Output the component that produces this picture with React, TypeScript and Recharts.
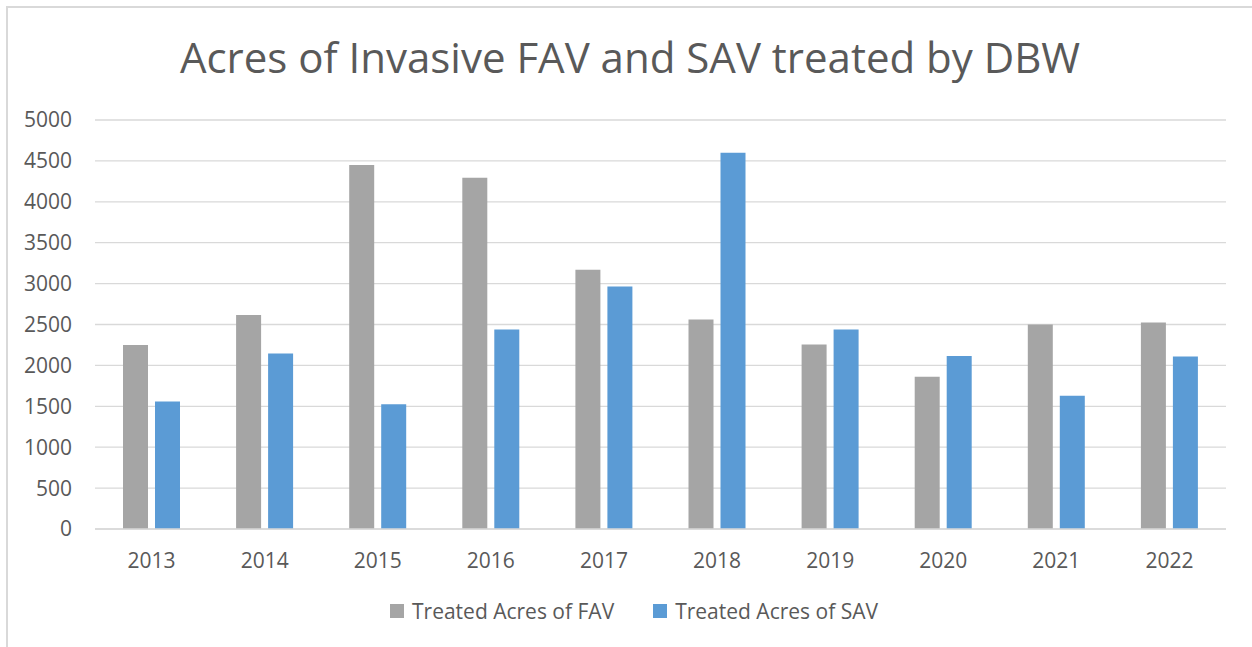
import React from 'react';
import { BarChart, Bar, XAxis, YAxis, CartesianGrid, Legend } from 'recharts';

const YEARS = ['2013', '2014', '2015', '2016', '2017', '2018', '2019', '2020', '2021', '2022'];
const FAV = [2250, 2615, 4450, 4295, 3170, 2560, 2255, 1860, 2500, 2525];
const SAV = [1560, 2145, 1525, 2440, 2965, 4600, 2440, 2115, 1630, 2110];
const Y_TICKS = [0, 500, 1000, 1500, 2000, 2500, 3000, 3500, 4000, 4500, 5000];

const SERIES = [
  { key: 'fav', name: 'Treated Acres of FAV', color: '#A5A5A5' },
  { key: 'sav', name: 'Treated Acres of SAV', color: '#5B9BD5' },
];

const data = YEARS.map((year, i) => ({ year, fav: FAV[i], sav: SAV[i] }));

const FONT = '"Open Sans", sans-serif';
const TEXT = '#595959';

const renderLegend = () => (
  <div style={{ display: 'flex', justifyContent: 'center', fontFamily: FONT, fontSize: 21, color: TEXT }}>
    {SERIES.map((s, i) => (
      <div key={s.key} style={{ display: 'flex', alignItems: 'center', marginLeft: i ? 39 : 0 }}>
        <span style={{ width: 14, height: 14, background: s.color, marginRight: 8, display: 'inline-block' }} />
        <span>{s.name}</span>
      </div>
    ))}
  </div>
);

export default function App() {
  return (
    <div style={{ position: 'fixed', left: 0, top: 0, width: 1252, height: 647, background: '#fff', overflow: 'hidden' }}>
      {/* chart frame, runs off the right and bottom edge like the screenshot */}
      <div style={{ position: 'absolute', left: 6, top: 6, width: 1300, height: 700, border: '2px solid #D9D9D9' }} />
      <div
        style={{
          position: 'absolute',
          left: 0,
          top: 36,
          width: 1260,
          textAlign: 'center',
          fontFamily: FONT,
          fontSize: 42,
          lineHeight: '42px',
          color: TEXT,
        }}
      >
        Acres of Invasive FAV and SAV treated by DBW
      </div>
      {/* legend height gets added to the bottom offset, so the margin is reduced by it */}
      <BarChart
        width={1252}
        height={647}
        data={data}
        margin={{ top: 120, right: 26, bottom: 88, left: 0 }}
        barCategoryGap={28}
        barGap={7}
      >
        <CartesianGrid vertical={false} stroke="#D9D9D9" strokeWidth={1.3} />
        <XAxis
          dataKey="year"
          axisLine={{ stroke: '#D9D9D9', strokeWidth: 1.3 }}
          tickLine={false}
          tickSize={0}
          tickMargin={24}
          tick={{ fill: TEXT, fontSize: 21, fontFamily: FONT }}
          interval={0}
        />
        <YAxis
          width={95}
          domain={[0, 5000]}
          ticks={Y_TICKS}
          axisLine={false}
          tickLine={false}
          tickSize={0}
          tickMargin={23}
          tick={{ fill: TEXT, fontSize: 21, fontFamily: FONT }}
        />
        <Legend
          content={renderLegend}
          layout="horizontal"
          verticalAlign="middle"
          wrapperStyle={{ left: 8, width: 1252, top: 597, bottom: 'auto' }}
        />
        {SERIES.map((s) => (
          <Bar key={s.key} dataKey={s.key} name={s.name} fill={s.color} isAnimationActive={false} />
        ))}
      </BarChart>
    </div>
  );
}
